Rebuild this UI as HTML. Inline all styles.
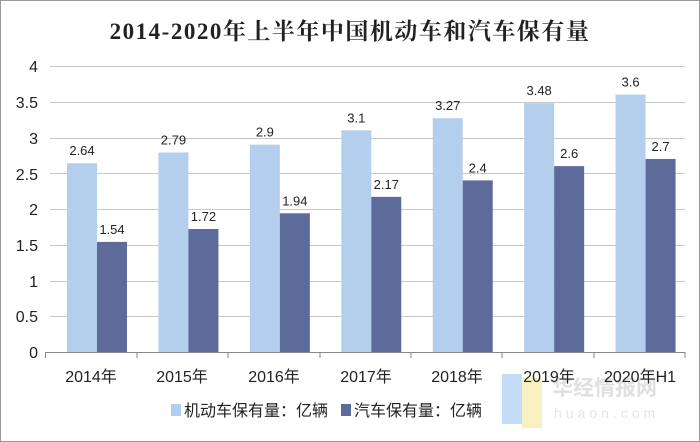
<!DOCTYPE html>
<html><head><meta charset="utf-8"><style>
body{margin:0;background:#fff}
svg{display:block}
text{font-family:"Liberation Sans","Noto Sans CJK SC",sans-serif;fill:#222}
</style></head><body>
<svg width="700" height="442" viewBox="0 0 700 442">
<rect x="0.5" y="0.5" width="699" height="441" fill="#fff" stroke="#999"/>
<text x="350" y="39" text-anchor="middle" font-size="23" font-weight="bold" letter-spacing="1.5" style="font-family:'Liberation Serif','Noto Serif CJK SC',serif">2014-2020年上半年中国机动车和汽车保有量</text>
<g stroke="#c8c8c8" stroke-width="1">
<line x1="50" x2="685" y1="66.5" y2="66.5"/><line x1="50" x2="685" y1="102.5" y2="102.5"/>
<line x1="50" x2="685" y1="138.5" y2="138.5"/><line x1="50" x2="685" y1="173.5" y2="173.5"/>
<line x1="50" x2="685" y1="209.5" y2="209.5"/><line x1="50" x2="685" y1="245.5" y2="245.5"/>
<line x1="50" x2="685" y1="281.5" y2="281.5"/><line x1="50" x2="685" y1="316.5" y2="316.5"/>
</g>
<g font-size="16" text-anchor="end">
<text x="38" y="72">4</text><text x="38" y="108">3.5</text><text x="38" y="144">3</text><text x="38" y="180">2.5</text>
<text x="38" y="215">2</text><text x="38" y="251">1.5</text><text x="38" y="287">1</text><text x="38" y="322">0.5</text><text x="38" y="358">0</text>
</g>
<g id="bars"></g>
<line x1="45" x2="685" y1="352.5" y2="352.5" stroke="#888"/>
<g stroke="#888">
<line x1="45.5" x2="45.5" y1="352" y2="358"/><line x1="137" x2="137" y1="352" y2="358"/><line x1="228" x2="228" y1="352" y2="358"/>
<line x1="320" x2="320" y1="352" y2="358"/><line x1="411" x2="411" y1="352" y2="358"/><line x1="502" x2="502" y1="352" y2="358"/>
<line x1="594" x2="594" y1="352" y2="358"/><line x1="685" x2="685" y1="352" y2="358"/>
</g>
<rect x="502" y="374" width="20" height="50" fill="#9ec5f0" opacity="0.6"/>
<rect x="522" y="378" width="20" height="50" fill="#f7e79a" opacity="0.6"/>
<text x="552" y="395" font-size="21" font-weight="bold" style="fill:#e0e0e0">华经情报网</text>
<text x="554" y="418" font-size="14" style="fill:#e4e4e4" letter-spacing="4">huaon.com</text>
<g font-size="16" text-anchor="middle">
<text x="91" y="382">2014年</text><text x="182" y="382">2015年</text><text x="274" y="382">2016年</text><text x="366" y="382">2017年</text>
<text x="457" y="382">2018年</text><text x="549" y="382">2019年</text><text x="640" y="382">2020年H1</text>
</g>
<rect x="171" y="404" width="10" height="12" fill="#b4cfee"/>
<text x="184" y="416" font-size="16">机动车保有量：亿辆</text>
<rect x="341" y="404" width="10" height="12" fill="#5c6b9a"/>
<text x="354" y="416" font-size="16">汽车保有量：亿辆</text>
</svg>
<script>
var light=[2.64,2.79,2.9,3.1,3.27,3.48,3.6],dark=[1.54,1.72,1.94,2.17,2.4,2.6,2.7];
var g=document.getElementById('bars'),s='';
for(var i=0;i<7;i++){var x0=45+i*91.43+22;
var h1=light[i]*71.5,h2=dark[i]*71.5;
s+='<rect x="'+x0+'" y="'+(352-h1)+'" width="30" height="'+h1+'" fill="#b4cfee"/>';
s+='<rect x="'+(x0+30)+'" y="'+(352-h2)+'" width="30" height="'+h2+'" fill="#5c6b9a"/>';
s+='<text x="'+(x0+15)+'" y="'+(352-h1-8)+'" font-size="13" text-anchor="middle">'+light[i]+'</text>';
s+='<text x="'+(x0+45)+'" y="'+(352-h2-8)+'" font-size="13" text-anchor="middle">'+dark[i]+'</text>';}
g.innerHTML=s;
</script>
</body></html>
